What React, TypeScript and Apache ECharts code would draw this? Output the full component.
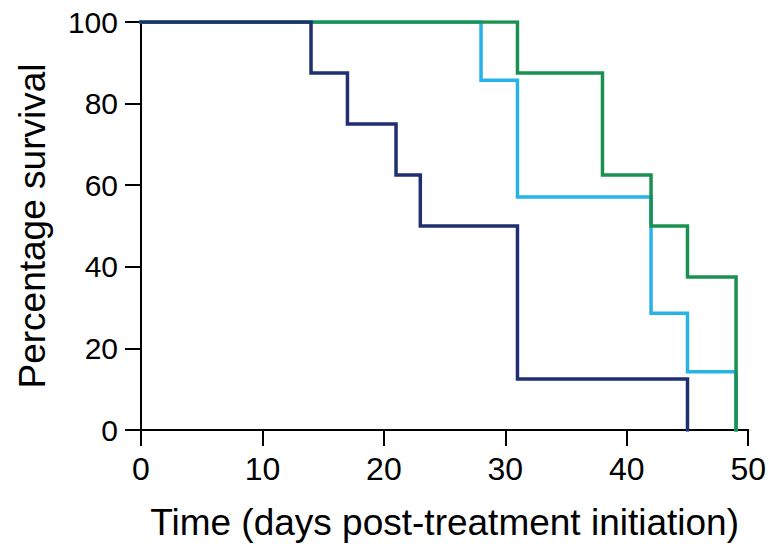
import React, { useEffect, useRef } from "react";
import * as echarts from "echarts";

const navyTimes = [0, 14, 17, 21, 23, 31, 45];
const navySurvival = [100, 87.5, 75, 62.5, 50, 12.5, 0];
const lightTimes = [0, 28, 31, 42, 45, 49];
const lightSurvival = [100, 85.7, 57.1, 28.6, 14.3, 0];
const greenTimes = [0, 31, 38, 42, 45, 49];
const greenSurvival = [100, 87.5, 62.5, 50, 37.5, 0];

const xTitle = "Time (days post-treatment initiation)";
const yTitle = "Percentage survival";

const zip = (t: number[], v: number[]) => t.map((x, i) => [x, v[i]]);

export default function App() {
  const ref = useRef<HTMLDivElement>(null);
  useEffect(() => {
    if (!ref.current) return;
    const chart = echarts.init(ref.current, null, { renderer: "svg" });
    const font = "'Liberation Sans', Arial, sans-serif";
    const mk = (name: string, color: string, data: number[][]) => ({
      name,
      type: "line",
      step: "end",
      data,
      symbol: "none",
      lineStyle: { color, width: 3.5, cap: "square", join: "miter" },
      itemStyle: { color },
    });
    chart.setOption({
      animation: false,
      backgroundColor: "#fff",
      grid: { left: 141, right: 20, top: 22, bottom: 118 },
      xAxis: {
        type: "value",
        min: 0,
        max: 50,
        interval: 10,
        name: xTitle,
        nameLocation: "middle",
        nameGap: 74,
        nameTextStyle: { fontFamily: font, fontSize: 37, color: "#000" },
        axisLine: { lineStyle: { color: "#000", width: 2 } },
        axisTick: { length: 16, lineStyle: { color: "#000", width: 2 } },
        axisLabel: { fontFamily: font, fontSize: 32, color: "#000", margin: 23 },
        splitLine: { show: false },
      },
      yAxis: {
        type: "value",
        min: 0,
        max: 100,
        interval: 20,
        name: yTitle,
        nameLocation: "middle",
        nameGap: 90,
        nameTextStyle: { fontFamily: font, fontSize: 37, color: "#000" },
        axisLine: { show: true, lineStyle: { color: "#000", width: 2 } },
        axisTick: { show: true, length: 16, lineStyle: { color: "#000", width: 2 } },
        axisLabel: { fontFamily: font, fontSize: 30, color: "#000", margin: 23 },
        splitLine: { show: false },
      },
      series: [
        mk("Group B", "#27b2e8", zip(lightTimes, lightSurvival)),
        mk("Group C", "#1a9150", zip(greenTimes, greenSurvival)),
        mk("Group A", "#1f2f70", zip(navyTimes, navySurvival)),
      ],
    });
    return () => chart.dispose();
  }, []);
  return <div ref={ref} style={{ width: 769, height: 548, position: "absolute", left: 0, top: 0 }} />;
}
